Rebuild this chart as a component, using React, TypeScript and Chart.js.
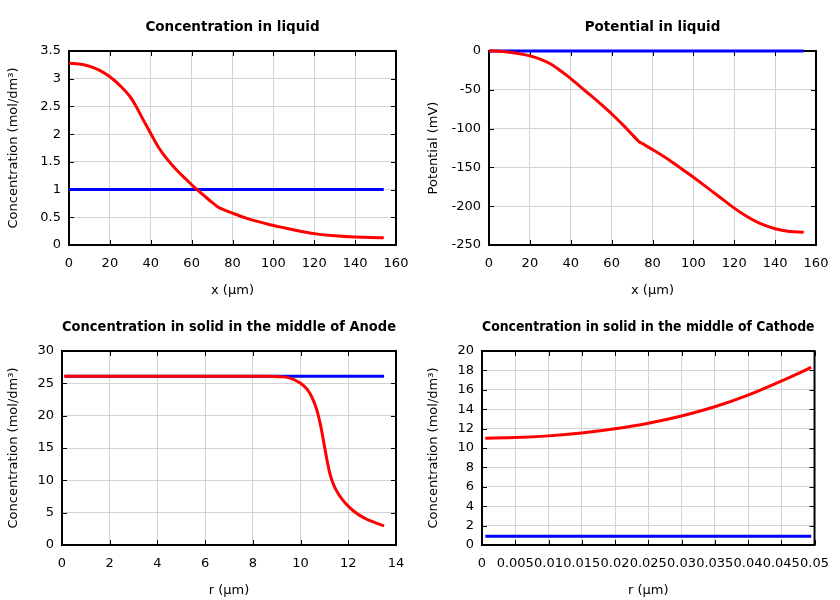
import React, { useEffect, useRef } from 'react';
import { Chart, registerables } from 'chart.js';

Chart.register(...registerables);

// ---------- data ----------
// Concentration in liquid (mol/dm3) vs x (µm)
const liquidX = [0, 5, 10, 15, 20, 25, 30, 33, 36, 40, 44, 48, 53, 58, 62, 68, 71.5, 73, 74.5, 79, 87, 97, 105, 112, 120, 130, 140, 148, 154];
const liquidConcFinal = [3.28, 3.265, 3.225, 3.15, 3.035, 2.875, 2.67, 2.49, 2.28, 2.01, 1.75, 1.55, 1.34, 1.16, 1.02, 0.83, 0.725, 0.68, 0.657, 0.59, 0.48, 0.38, 0.312, 0.257, 0.205, 0.165, 0.143, 0.134, 0.132];
const liquidConcInitX = [0, 154];
const liquidConcInit = [1.0, 1.0];

// Potential in liquid (mV) vs x (µm)
const potX = [0, 5, 9, 15, 20, 25, 30, 35, 40, 48, 56, 62, 66, 70, 72, 73.5, 75, 81, 89, 97, 105, 112, 120, 126, 132, 140, 147, 154];
const potFinal = [0, -0.4, -1.3, -3.6, -6.3, -10.5, -16.5, -25.5, -35.5, -53.3, -71.5, -86, -96.5, -107.5, -113, -117, -119.3, -128.6, -142, -157, -172.5, -186.5, -202.5, -213, -221.5, -229, -232.5, -233.5];
const potInitX = [0, 154];
const potInit = [0, 0];

// Concentration in solid, middle of anode vs r (µm)
const anodeR = [0.1, 2, 4, 6, 8, 8.7, 9.3, 9.7, 10, 10.27, 10.47, 10.68, 10.85, 11.0, 11.13, 11.24, 11.38, 11.6, 11.87, 12.22, 12.64, 13.05, 13.5];
const anodeFinal = [26.1, 26.1, 26.1, 26.1, 26.1, 26.08, 26.0, 25.6, 25.0, 24.1, 22.9, 20.9, 18.3, 15.3, 12.7, 10.9, 9.36, 7.8, 6.5, 5.26, 4.23, 3.56, 2.95];
const anodeInitR = [0.1, 13.5];
const anodeInit = [26.1, 26.1];

// Concentration in solid, middle of cathode vs r (µm)
const cathodeR = [0.0005, 0.005, 0.01, 0.015, 0.02, 0.025, 0.03, 0.035, 0.04, 0.045, 0.0495];
const cathodeFinal = [11.0, 11.07, 11.25, 11.55, 11.98, 12.55, 13.3, 14.25, 15.45, 16.9, 18.3];
const cathodeInitR = [0.0005, 0.0495];
const cathodeInit = [0.9, 0.9];

const RED = '#ff0000';
const BLUE = '#0000ff';
const GRID = '#d3d3d3';
const FONT = "'DejaVu Sans', sans-serif";
const FS = 13;
const TFS = 13.5;

type Series = { xs: number[]; ys: number[]; color: string };
type PanelCfg = {
  title: string;
  xTitle: string;
  yTitle: string;
  xMin: number; xMax: number; xStep: number;
  yMin: number; yMax: number; yStep: number;
  axisWidth: number;
  series: Series[];
};

const panels: PanelCfg[] = [
  {
    title: 'Concentration in liquid', xTitle: 'x (µm)', yTitle: 'Concentration (mol/dm³)',
    xMin: 0, xMax: 160, xStep: 20, yMin: 0, yMax: 3.5, yStep: 0.5, axisWidth: 69,
    series: [
      { xs: liquidX, ys: liquidConcFinal, color: RED },
      { xs: liquidConcInitX, ys: liquidConcInit, color: BLUE },
    ],
  },
  {
    title: 'Potential in liquid', xTitle: 'x (µm)', yTitle: 'Potential (mV)',
    xMin: 0, xMax: 160, xStep: 20, yMin: -250, yMax: 0, yStep: 50, axisWidth: 69,
    series: [
      { xs: potX, ys: potFinal, color: RED },
      { xs: potInitX, ys: potInit, color: BLUE },
    ],
  },
  {
    title: 'Concentration in solid in the middle of Anode', xTitle: 'r (µm)', yTitle: 'Concentration (mol/dm³)',
    xMin: 0, xMax: 14, xStep: 2, yMin: 0, yMax: 30, yStep: 5, axisWidth: 62,
    series: [
      { xs: anodeR, ys: anodeFinal, color: RED },
      { xs: anodeInitR, ys: anodeInit, color: BLUE },
    ],
  },
  {
    title: 'Concentration in solid in the middle of Cathode', xTitle: 'r (µm)', yTitle: 'Concentration (mol/dm³)',
    xMin: 0, xMax: 0.05, xStep: 0.005, yMin: 0, yMax: 20, yStep: 2, axisWidth: 62,
    series: [
      { xs: cathodeR, ys: cathodeFinal, color: RED },
      { xs: cathodeInitR, ys: cathodeInit, color: BLUE },
    ],
  },
];

const fmt = (v: any) => String(Number(Number(v).toPrecision(10)));

// Border box with inward (mirrored) tick marks, gnuplot style
const framePlugin = {
  id: 'frame',
  beforeDatasetsDraw(chart: any) {
    const { ctx, chartArea: a, scales } = chart;
    const tl = 5;
    ctx.save();
    ctx.strokeStyle = '#000';
    ctx.lineWidth = 1;
    ctx.beginPath();
    scales.x.ticks.forEach((t: any) => {
      const px = Math.round(scales.x.getPixelForValue(t.value)) + 0.5;
      ctx.moveTo(px, a.bottom); ctx.lineTo(px, a.bottom - tl);
      ctx.moveTo(px, a.top); ctx.lineTo(px, a.top + tl);
    });
    scales.y.ticks.forEach((t: any) => {
      const py = Math.round(scales.y.getPixelForValue(t.value)) + 0.5;
      ctx.moveTo(a.left, py); ctx.lineTo(a.left + tl, py);
      ctx.moveTo(a.right, py); ctx.lineTo(a.right - tl, py);
    });
    ctx.stroke();
    ctx.lineWidth = 2;
    ctx.strokeRect(a.left, a.top, a.right - a.left, a.bottom - a.top);
    ctx.restore();
  },
};

function Panel({ cfg }: { cfg: PanelCfg }) {
  const ref = useRef<HTMLCanvasElement | null>(null);
  useEffect(() => {
    if (!ref.current) return;
    const chart = new Chart(ref.current, {
      type: 'line',
      data: {
        datasets: cfg.series.map((s) => ({
          data: s.xs.map((x, i) => ({ x, y: s.ys[i] })),
          borderColor: s.color,
          backgroundColor: s.color,
          borderWidth: 3,
          pointRadius: 0,
          fill: false,
          cubicInterpolationMode: 'monotone' as const,
          clip: false as any,
          borderJoinStyle: 'round' as const,
        })),
      },
      options: {
        responsive: false,
        animation: false,
        events: [],
        layout: { padding: { left: 0, right: 24, top: 0, bottom: 0 } },
        plugins: {
          legend: { display: false },
          tooltip: { enabled: false },
          title: {
            display: true,
            text: cfg.title,
            fullSize: false,
            color: '#000',
            font: { family: FONT, size: TFS, weight: 'bold' },
            padding: { top: 19, bottom: 15.8 },
          },
        },
        scales: {
          x: {
            type: 'linear',
            min: cfg.xMin,
            max: cfg.xMax,
            grid: { color: GRID, lineWidth: 1, drawTicks: false },
            border: { display: false },
            ticks: {
              stepSize: cfg.xStep,
              autoSkip: false,
              maxRotation: 0,
              minRotation: 0,
              padding: 11,
              color: '#000',
              font: { family: FONT, size: FS },
              callback: fmt,
            },
            title: {
              display: true,
              text: cfg.xTitle,
              color: '#000',
              font: { family: FONT, size: FS },
              padding: { top: 0, bottom: 1.8 },
            },
            afterFit: (s: any) => { s.height = 55; },
          },
          y: {
            type: 'linear',
            min: cfg.yMin,
            max: cfg.yMax,
            grid: { color: GRID, lineWidth: 1, drawTicks: false },
            border: { display: false },
            ticks: {
              stepSize: cfg.yStep,
              autoSkip: false,
              padding: 8,
              color: '#000',
              font: { family: FONT, size: FS },
              callback: fmt,
            },
            title: {
              display: true,
              text: cfg.yTitle,
              color: '#000',
              font: { family: FONT, size: FS },
              padding: { top: 5.4, bottom: 0 },
            },
            afterFit: (s: any) => { s.width = cfg.axisWidth; },
          },
        },
      } as any,
      plugins: [framePlugin],
    });
    return () => chart.destroy();
  }, [cfg]);
  return (
    <canvas
      ref={ref}
      width={420}
      height={300}
      style={{ display: 'block', width: 420, height: 300 }}
    />
  );
}

export default function App() {
  return (
    <div
      style={{
        position: 'absolute',
        left: 0,
        top: 0,
        width: 840,
        height: 600,
        background: '#fff',
        display: 'grid',
        gridTemplateColumns: '420px 420px',
        gridTemplateRows: '300px 300px',
      }}
    >
      {panels.map((p, i) => (
        <Panel key={i} cfg={p} />
      ))}
    </div>
  );
}
